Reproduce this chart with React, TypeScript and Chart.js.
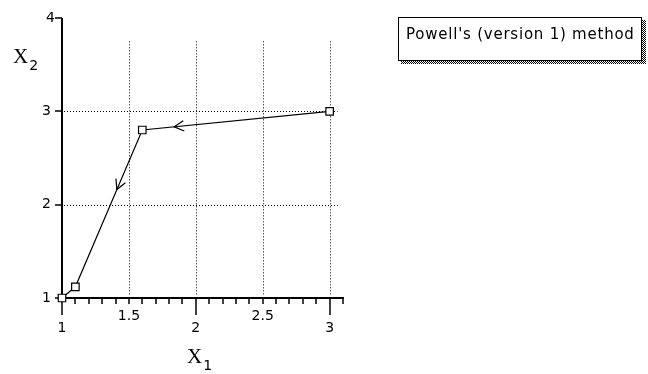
import React, { useEffect, useRef } from "react";
import { Chart, registerables } from "chart.js";

Chart.register(...registerables);

// Path of the search (visited order)
const xValues = [3, 1.6, 1.1, 1];
const yValues = [3, 2.8, 1.12, 1];
// Arrow position along each segment (fraction from start), null = no arrow
const arrowFractions: (number | null)[] = [0.83, 0.38, null];

// Axis ticks / labels
const xLabelValues = [1, 1.5, 2, 2.5, 3];
const xLabelTexts = ["1", "1.5", "2", "2.5", "3"];
const xMajorTickValues = [1, 2, 3];
const yLabelValues = [1, 2, 3, 4];
const yLabelTexts = ["1", "2", "3", "4"];
const xGridValues = [1.5, 2, 2.5, 3];
const yGridValues = [2, 3];
const gridTopValue = 3.75;
const gridRightValue = 3.06;
const xMin = 1;
const xMax = 3.1;
const yMin = 1;
const yMax = 4;

const legendText = "Powell's (version 1) method";

const sansFont = '"DejaVu Sans", "Liberation Sans", sans-serif';
const serifFont = '"Liberation Serif", "DejaVu Serif", serif';

function drawArrow(ctx: CanvasRenderingContext2D, x: number, y: number, ang: number) {
  const len = 11;
  const spread = (28 * Math.PI) / 180;
  const back = ang + Math.PI;
  ctx.beginPath();
  ctx.moveTo(x + len * Math.cos(back - spread), y + len * Math.sin(back - spread));
  ctx.lineTo(x, y);
  ctx.lineTo(x + len * Math.cos(back + spread), y + len * Math.sin(back + spread));
  ctx.stroke();
}

const decorPlugin = {
  id: "decor",
  beforeDatasetsDraw(chart: any) {
    const ctx: CanvasRenderingContext2D = chart.ctx;
    const xs = chart.scales.x;
    const ys = chart.scales.y;
    const px = (v: number) => xs.getPixelForValue(v);
    const py = (v: number) => ys.getPixelForValue(v);
    ctx.save();

    // dotted grid
    ctx.strokeStyle = "#000";
    ctx.lineWidth = 1;
    ctx.setLineDash([1, 2]);
    for (const v of xGridValues) {
      const x = Math.round(px(v)) + 0.5;
      ctx.beginPath();
      ctx.moveTo(x, py(gridTopValue));
      ctx.lineTo(x, py(yMin) - 2);
      ctx.stroke();
    }
    for (const v of yGridValues) {
      const y = Math.round(py(v)) + 0.5;
      ctx.beginPath();
      ctx.moveTo(px(xMin) + 2, y);
      ctx.lineTo(px(gridRightValue), y);
      ctx.stroke();
    }
    ctx.setLineDash([]);

    // axes
    const ax = Math.round(px(xMin));
    const ay = Math.round(py(yMin));
    ctx.lineWidth = 2;
    ctx.beginPath();
    ctx.moveTo(ax, Math.round(py(yMax)));
    ctx.lineTo(ax, ay);
    ctx.moveTo(ax - 1, ay);
    ctx.lineTo(Math.round(px(xMax)) + 1, ay);
    ctx.stroke();

    // x ticks
    ctx.lineWidth = 1.5;
    for (let i = 0; i <= Math.round((xMax - xMin) * 10); i++) {
      const v = xMin + i / 10;
      const major = xMajorTickValues.some((m) => Math.abs(m - v) < 1e-6);
      const x = Math.round(px(v));
      ctx.beginPath();
      ctx.moveTo(x, ay);
      ctx.lineTo(x, ay + (major ? 17 : 6));
      ctx.stroke();
    }
    // y ticks
    for (const v of yLabelValues) {
      const y = Math.round(py(v));
      ctx.beginPath();
      ctx.moveTo(ax - 7, y);
      ctx.lineTo(ax, y);
      ctx.stroke();
    }

    // tick labels
    ctx.fillStyle = "#000";
    ctx.font = "14px " + sansFont;
    ctx.textAlign = "center";
    ctx.textBaseline = "middle";
    xLabelValues.forEach((v, i) => {
      const low = i % 2 === 0;
      ctx.fillText(xLabelTexts[i], px(v), ay + (low ? 30 : 18));
    });
    ctx.textAlign = "right";
    yLabelValues.forEach((v, i) => {
      const top = i === yLabelValues.length - 1;
      ctx.fillText(yLabelTexts[i], ax - (top ? 7 : 11), py(v));
    });

    // axis titles
    ctx.textAlign = "left";
    ctx.textBaseline = "alphabetic";
    ctx.font = "21px " + serifFont;
    ctx.fillText("X", 13, 63);
    let w = ctx.measureText("X").width;
    ctx.font = "14px " + sansFont;
    ctx.fillText("2", 13 + w + 1, 70);
    ctx.font = "21px " + serifFont;
    ctx.fillText("X", 187, 363);
    w = ctx.measureText("X").width;
    ctx.font = "14px " + sansFont;
    ctx.fillText("1", 187 + w + 1, 370);

    // legend box with dithered shadow
    const pc = document.createElement("canvas");
    pc.width = 2;
    pc.height = 2;
    const pctx = pc.getContext("2d")!;
    pctx.fillStyle = "#000";
    pctx.fillRect(0, 0, 1, 1);
    pctx.fillRect(1, 1, 1, 1);
    const pattern = ctx.createPattern(pc, "repeat")!;
    ctx.fillStyle = pattern;
    ctx.fillRect(401, 20, 245, 44);
    ctx.fillStyle = "#fff";
    ctx.fillRect(398, 17, 244, 44);
    ctx.strokeStyle = "#000";
    ctx.lineWidth = 1;
    ctx.strokeRect(398.5, 17.5, 243, 43);
    ctx.fillStyle = "#000";
    ctx.font = "15px " + sansFont;
    ctx.textAlign = "left";
    const targetW = 228;
    const baseW = ctx.measureText(legendText).width;
    const spacing = (targetW - baseW) / (legendText.length - 1);
    (ctx as any).letterSpacing = spacing.toFixed(2) + "px";
    ctx.fillText(legendText, 406, 39);
    (ctx as any).letterSpacing = "0px";

    ctx.restore();
  },
  afterDatasetsDraw(chart: any) {
    const ctx: CanvasRenderingContext2D = chart.ctx;
    const xs = chart.scales.x;
    const ys = chart.scales.y;
    ctx.save();
    ctx.strokeStyle = "#000";
    ctx.lineWidth = 1.2;
    arrowFractions.forEach((f, i) => {
      if (f == null) return;
      const x0 = xs.getPixelForValue(xValues[i]);
      const y0 = ys.getPixelForValue(yValues[i]);
      const x1 = xs.getPixelForValue(xValues[i + 1]);
      const y1 = ys.getPixelForValue(yValues[i + 1]);
      const x = x0 + (x1 - x0) * f;
      const y = y0 + (y1 - y0) * f;
      drawArrow(ctx, x, y, Math.atan2(y1 - y0, x1 - x0));
    });
    ctx.restore();
  },
};

export default function App() {
  const ref = useRef<HTMLCanvasElement | null>(null);
  useEffect(() => {
    if (!ref.current) return;
    const chart = new Chart(ref.current, {
      type: "scatter",
      data: {
        datasets: [
          {
            data: xValues.map((x, i) => ({ x, y: yValues[i] })),
            showLine: true,
            borderColor: "#000",
            borderWidth: 1.2,
            pointStyle: "rect",
            pointRadius: 5.3,
            pointBackgroundColor: "#fff",
            pointBorderColor: "#000",
            pointBorderWidth: 1.2,
            clip: false as any,
          },
        ],
      },
      options: {
        animation: false,
        responsive: false,
        devicePixelRatio: 1,
        events: [],
        layout: { padding: { left: 62, right: 305, top: 18, bottom: 76 } },
        plugins: { legend: { display: false }, tooltip: { enabled: false } },
        scales: {
          x: { type: "linear", min: xMin, max: xMax, display: false },
          y: { type: "linear", min: yMin, max: yMax, display: false },
        },
      },
      plugins: [decorPlugin],
    });
    return () => chart.destroy();
  }, []);
  return (
    <div style={{ position: "absolute", left: 0, top: 0, width: 648, height: 374, background: "#fff" }}>
      <canvas ref={ref} width={648} height={374} style={{ width: 648, height: 374, display: "block" }} />
    </div>
  );
}
